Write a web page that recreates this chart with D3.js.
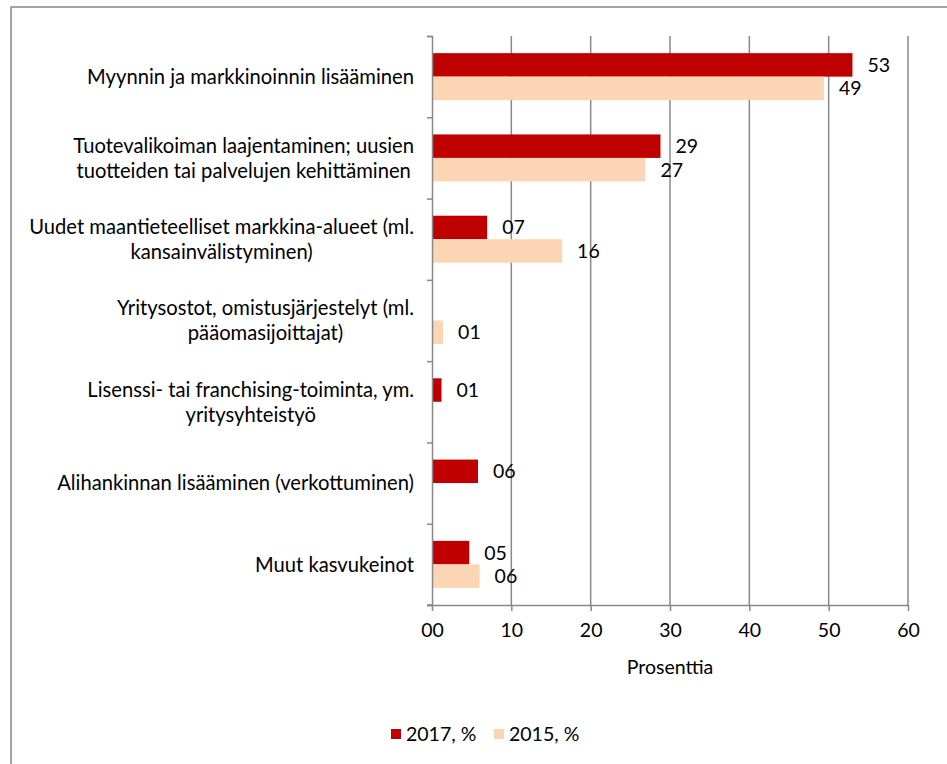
<!DOCTYPE html>
<html>
<head>
<meta charset="utf-8">
<script src="https://cdnjs.cloudflare.com/ajax/libs/d3/7.8.5/d3.min.js"></script>
<style>
  body { margin: 0; background: #fff; }
  svg text { font-family: Lato, "Open Sans", sans-serif; fill: #000; font-size: 19.5px; }
  svg text.cat { font-size: 20.2px; }
</style>
</head>
<body>
<svg width="947" height="764"></svg>
<script>
// category labels, one array of lines per category
var categories = [
  ["Myynnin ja markkinoinnin lisääminen"],
  ["Tuotevalikoiman laajentaminen; uusien", "tuotteiden tai palvelujen kehittäminen"],
  ["Uudet maantieteelliset markkina-alueet (ml.", "kansainvälistyminen)"],
  ["Yritysostot, omistusjärjestelyt (ml.", "pääomasijoittajat)"],
  ["Lisenssi- tai franchising-toiminta, ym.", "yritysyhteistyö"],
  ["Alihankinnan lisääminen (verkottuminen)"],
  ["Muut kasvukeinot"]
];
var series = ["2017, %", "2015, %"];
var values2017 = [53.0, 28.8, 6.95, null, 1.2, 5.8, 4.7];
var values2015 = [49.4, 26.9, 16.4, 1.4, null, null, 6.0];
var xTicks = [0, 10, 20, 30, 40, 50, 60];
var colors = ["#c00000", "#fcd5b5"];

var svg = d3.select("svg"),
    width = +svg.attr("width"),
    height = +svg.attr("height");

var plotL = 432, plotR = 908, plotT = 36, plotB = 605;
var grid = "#888888";

// outer frame (runs off the right and bottom edges)
svg.append("rect")
    .attr("x", 11).attr("y", 7)
    .attr("width", width).attr("height", height)
    .attr("fill", "none").attr("stroke", grid).attr("stroke-width", 1.5);

var x = d3.scaleLinear().domain([0, 60]).range([plotL, plotR]);
var y0 = d3.scaleBand().domain(d3.range(categories.length)).range([plotT, plotB]);
var y1 = d3.scaleBand().domain(series).range([0, y0.bandwidth()]).paddingInner(0).paddingOuter(0.73);

// vertical gridlines
svg.append("g").selectAll("line").data(xTicks.slice(1)).enter().append("line")
    .attr("x1", function(d) { return x(d); }).attr("x2", function(d) { return x(d); })
    .attr("y1", plotT).attr("y2", plotB)
    .attr("stroke", grid).attr("stroke-width", 1.5);

// bars
var rows = categories.map(function(c, i) {
  return [{s: series[0], v: values2017[i], c: colors[0]}, {s: series[1], v: values2015[i], c: colors[1]}];
});
var grp = svg.append("g").selectAll("g").data(rows).enter().append("g")
    .attr("transform", function(d, i) { return "translate(0," + y0(i) + ")"; });

grp.selectAll("rect").data(function(d) { return d.filter(function(e) { return e.v != null; }); })
  .enter().append("rect")
    .attr("x", x(0))
    .attr("y", function(d) { return y1(d.s); })
    .attr("width", function(d) { return x(d.v) - x(0); })
    .attr("height", y1.bandwidth())
    .attr("fill", function(d) { return d.c; });

var fmt = d3.format("02.0f");
grp.selectAll("text").data(function(d) { return d.filter(function(e) { return e.v != null; }); })
  .enter().append("text")
    .attr("x", function(d) { return x(d.v) + 15; })
    .attr("y", function(d) { return y1(d.s) + y1.bandwidth() / 2; })
    .attr("dy", "0.36em")
    .text(function(d) { return fmt(d.v); });

// y axis line and ticks
var yAxis = d3.axisLeft(d3.scaleLinear().domain([0, categories.length]).range([plotT, plotB]))
    .ticks(categories.length).tickSize(5).tickFormat("");
svg.append("g").attr("transform", "translate(" + plotL + ",0)").call(yAxis)
  .call(function(g) {
    g.select(".domain").attr("stroke", grid).attr("stroke-width", 1.5);
    g.selectAll(".tick line").attr("stroke", grid).attr("stroke-width", 1.5);
  });

// x axis
var xAxis = d3.axisBottom(x).tickValues(xTicks).tickSize(6).tickSizeOuter(0).tickPadding(12)
    .tickFormat(d3.format("02d"));
svg.append("g").attr("transform", "translate(0," + plotB + ")").call(xAxis)
  .call(function(g) {
    g.select(".domain").attr("stroke", grid).attr("stroke-width", 1.5);
    g.selectAll(".tick line").attr("stroke", grid).attr("stroke-width", 1.5);
    g.selectAll(".tick text").style("font-size", "19.5px").style("font-family", "Lato, sans-serif").attr("fill", "#000");
  });
svg.append("line").attr("x1", plotL - 5).attr("x2", plotL).attr("y1", plotB).attr("y2", plotB)
    .attr("stroke", grid).attr("stroke-width", 1.5);

svg.append("text")
    .attr("x", (plotL + plotR) / 2).attr("y", 667).attr("dy", "0.36em")
    .attr("text-anchor", "middle")
    .text("Prosenttia");

// category labels: block right-aligned at the axis, lines centred within the block
var labelRight = 414, lineH = 25;
categories.forEach(function(lines, i) {
  var cy = y0(i) + y0.bandwidth() / 2;
  var t = svg.append("g");
  var texts = lines.map(function(l, j) {
    return t.append("text")
      .attr("class", "cat")
      .attr("y", cy + (j - (lines.length - 1) / 2) * lineH)
      .attr("dy", "0.36em")
      .attr("text-anchor", "middle")
      .text(l);
  });
  var w = d3.max(texts, function(s) { return s.node().getComputedTextLength(); });
  texts.forEach(function(s) { s.attr("x", labelRight - w / 2); });
});

// legend
var legX = [391, 494];
var leg = svg.append("g").selectAll("g").data(series).enter().append("g")
    .attr("transform", function(d, i) { return "translate(" + legX[i] + ",729)"; });
leg.append("rect").attr("width", 10).attr("height", 10)
    .attr("fill", function(d, i) { return colors[i]; });
leg.append("text").attr("x", 15).attr("y", 5).attr("dy", "0.36em")
    .text(function(d) { return d; });
</script>
</body>
</html>
